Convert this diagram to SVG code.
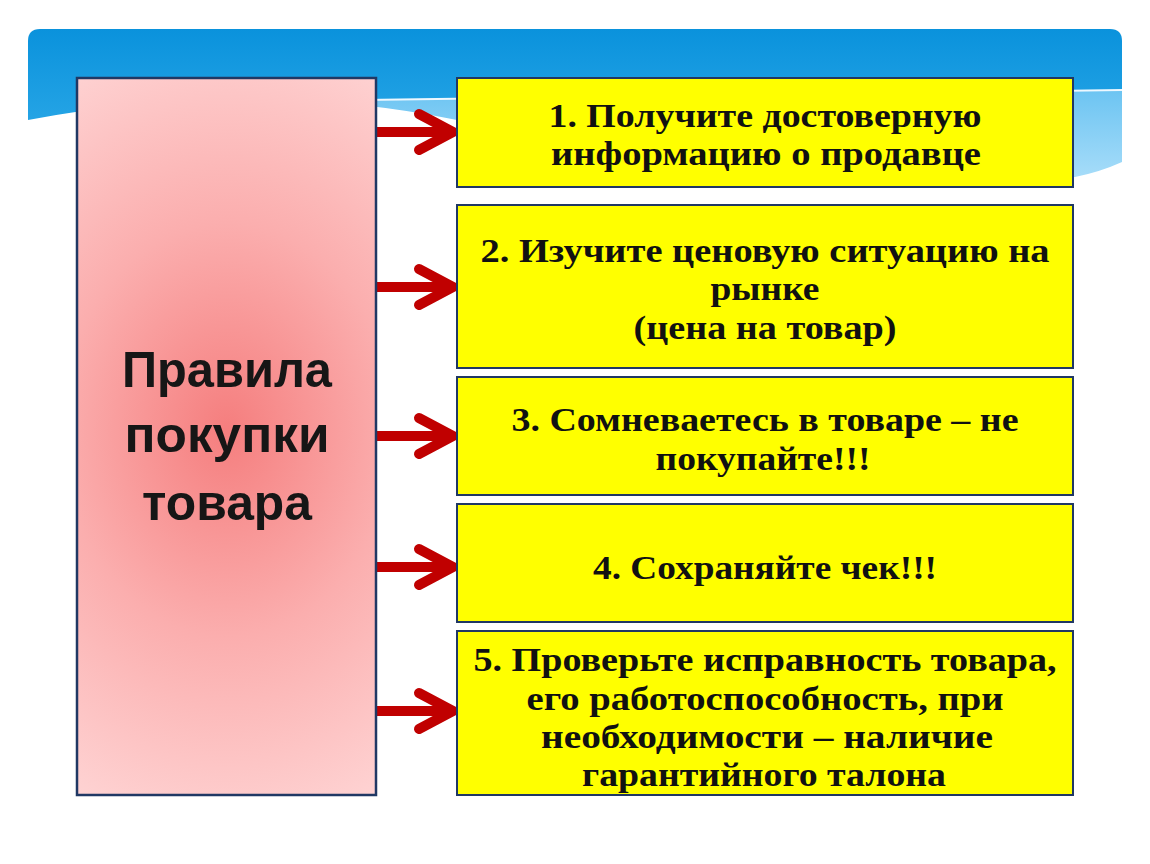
<svg xmlns="http://www.w3.org/2000/svg" width="1150" height="864" viewBox="0 0 1150 864">
<defs>
<linearGradient id="sky" x1="0" y1="0" x2="0" y2="1">
<stop offset="0" stop-color="#0a92dc"/>
<stop offset="0.6" stop-color="#28a6e6"/>
<stop offset="1" stop-color="#48b6ee"/>
</linearGradient>
<linearGradient id="band" gradientUnits="userSpaceOnUse" x1="0" y1="90" x2="0" y2="180">
<stop offset="0" stop-color="#6cc4f2"/>
<stop offset="1" stop-color="#a8ddf9"/>
</linearGradient>
<radialGradient id="pink" gradientUnits="userSpaceOnUse" cx="227" cy="430" r="460" gradientTransform="translate(227 430) scale(0.8 1) translate(-227 -430)">
<stop offset="0" stop-color="#f57e7e"/>
<stop offset="0.45" stop-color="#fbaeae"/>
<stop offset="1" stop-color="#ffdcdc"/>
</radialGradient>
<clipPath id="bannerClip">
<path d="M28,41 Q28,29 40,29 H1110 Q1122,29 1122,41 V200 H28 Z"/>
</clipPath>
</defs>
<style>
.box{fill:#ffff00;stroke:#203864;stroke-width:2}
.t{font-family:"Liberation Serif","Times New Roman",serif;font-weight:bold;font-size:34px;fill:#111;text-anchor:middle}
.main{font-family:"Liberation Sans",Arial,sans-serif;font-weight:bold;font-size:50px;fill:#161616;text-anchor:middle}
.arr{fill:none;stroke:#c00000;stroke-width:10}
.head{fill:none;stroke:#c00000;stroke-width:10;stroke-linecap:round;stroke-linejoin:miter}
</style>
<rect width="1150" height="864" fill="#ffffff"/>
<g id="banner" clip-path="url(#bannerClip)">
<rect x="28" y="29" width="1094" height="171" fill="url(#sky)"/>
<path d="M290,101 Q700,94 1122,90 V200 H290 Z" fill="url(#band)"/>
<path d="M28,200 V120 Q250,78 457,120 Q800,192 1075,177 Q1100,172 1122,162 V200 Z" fill="#ffffff"/>
<path d="M290,101 Q700,94 1122,90" fill="none" stroke="#eef8ff" stroke-width="2"/>
</g>
<g id="connectors">
<path class="arr" d="M376,132 H450"/><path class="head" d="M419,114 L453,132 L419,150"/>
<path class="arr" d="M376,287 H450"/><path class="head" d="M419,269 L453,287 L419,305"/>
<path class="arr" d="M376,436 H450"/><path class="head" d="M419,418 L453,436 L419,454"/>
<path class="arr" d="M376,567 H450"/><path class="head" d="M419,549 L453,567 L419,585"/>
<path class="arr" d="M376,711 H450"/><path class="head" d="M419,693 L453,711 L419,729"/>
</g>
<g id="main">
<rect x="77" y="78" width="299" height="717" fill="url(#pink)" stroke="#203864" stroke-width="2.5"/>
<text class="main" x="227" y="387" textLength="210" lengthAdjust="spacingAndGlyphs">Правила</text>
<text class="main" x="227" y="452" textLength="205" lengthAdjust="spacingAndGlyphs">покупки</text>
<text class="main" x="227" y="520" textLength="170" lengthAdjust="spacingAndGlyphs">товара</text>
</g>
<g id="rule1">
<rect class="box" x="457" y="78" width="616" height="109"/>
<text class="t" x="765" y="127" textLength="433" lengthAdjust="spacingAndGlyphs">1. Получите достоверную</text>
<text class="t" x="766" y="165" textLength="430" lengthAdjust="spacingAndGlyphs">информацию о продавце</text>
</g>
<g id="rule2">
<rect class="box" x="457" y="205" width="616" height="163"/>
<text class="t" x="765" y="262" textLength="569" lengthAdjust="spacingAndGlyphs">2. Изучите ценовую ситуацию на</text>
<text class="t" x="765" y="300" textLength="109" lengthAdjust="spacingAndGlyphs">рынке</text>
<text class="t" x="765" y="339" textLength="263" lengthAdjust="spacingAndGlyphs">(цена на товар)</text>
</g>
<g id="rule3">
<rect class="box" x="457" y="377" width="616" height="118"/>
<text class="t" x="765" y="431" textLength="507" lengthAdjust="spacingAndGlyphs">3. Сомневаетесь в товаре – не</text>
<text class="t" x="763" y="470" textLength="215" lengthAdjust="spacingAndGlyphs">покупайте!!!</text>
</g>
<g id="rule4">
<rect class="box" x="457" y="504" width="616" height="118"/>
<text class="t" x="765" y="579" textLength="344" lengthAdjust="spacingAndGlyphs">4. Сохраняйте чек!!!</text>
</g>
<g id="rule5">
<rect class="box" x="457" y="631" width="616" height="164"/>
<text class="t" x="765" y="671" textLength="583" lengthAdjust="spacingAndGlyphs">5. Проверьте исправность товара,</text>
<text class="t" x="765" y="710" textLength="477" lengthAdjust="spacingAndGlyphs">его работоспособность, при</text>
<text class="t" x="767" y="748" textLength="452" lengthAdjust="spacingAndGlyphs">необходимости – наличие</text>
<text class="t" x="764" y="786" textLength="364" lengthAdjust="spacingAndGlyphs">гарантийного талона</text>
</g>
</svg>
